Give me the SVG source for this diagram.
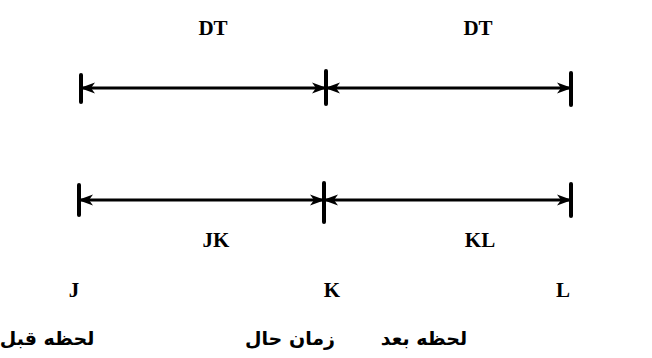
<svg xmlns="http://www.w3.org/2000/svg" width="652" height="358" viewBox="0 0 652 358">
<style>
.lbl{font-family:"Liberation Serif","Times New Roman",serif;font-weight:bold;font-size:21px;fill:#000;text-anchor:middle}
.ar{font-family:"DejaVu Sans","Noto Sans",sans-serif;font-weight:bold;font-size:19px;fill:#000;text-anchor:middle}
.ln{stroke:#000;stroke-width:3;fill:none}
.tk{stroke:#000;stroke-width:4;stroke-linecap:round;fill:none}
</style>
<defs>
<marker id="ah" viewBox="0 0 15 12" refX="14" refY="6" markerWidth="15" markerHeight="12" markerUnits="userSpaceOnUse" orient="auto-start-reverse">
<path d="M0,0.5 L15,6 L0,11.5 L4,6 Z" fill="#000"/>
</marker>
</defs>
<rect width="652" height="358" fill="#fff"/>
<g id="connectors">
<line class="ln" x1="81" y1="88" x2="326" y2="88" marker-start="url(#ah)" marker-end="url(#ah)"/>
<line class="ln" x1="326" y1="88" x2="571" y2="88" marker-start="url(#ah)" marker-end="url(#ah)"/>
<line class="ln" x1="79" y1="200" x2="324" y2="200" marker-start="url(#ah)" marker-end="url(#ah)"/>
<line class="ln" x1="324" y1="200" x2="571" y2="200" marker-start="url(#ah)" marker-end="url(#ah)"/>
</g>
<g id="ticks">
<line class="tk" x1="81" y1="75" x2="81" y2="102"/>
<line class="tk" x1="326" y1="71" x2="326" y2="104"/>
<line class="tk" x1="571" y1="73" x2="571" y2="105"/>
<line class="tk" x1="79" y1="185" x2="79" y2="215"/>
<line class="tk" x1="324" y1="183" x2="324" y2="222"/>
<line class="tk" x1="571" y1="184" x2="571" y2="216"/>
</g>
<g id="dt1"><text class="lbl" x="213" y="35">DT</text></g>
<g id="dt2"><text class="lbl" x="478" y="35">DT</text></g>
<g id="jk"><text class="lbl" x="216" y="247">JK</text></g>
<g id="kl"><text class="lbl" x="480" y="247">KL</text></g>
<g id="J"><text class="lbl" x="74" y="297">J</text></g>
<g id="K"><text class="lbl" x="332" y="297">K</text></g>
<g id="L"><text class="lbl" x="563" y="297">L</text></g>
<g id="qabl"><text class="ar" x="47" y="345">لحظه قبل</text></g>
<g id="hal"><text class="ar" x="290" y="345">زمان حال</text></g>
<g id="baad"><text class="ar" x="424" y="345">لحظه بعد</text></g>
</svg>
